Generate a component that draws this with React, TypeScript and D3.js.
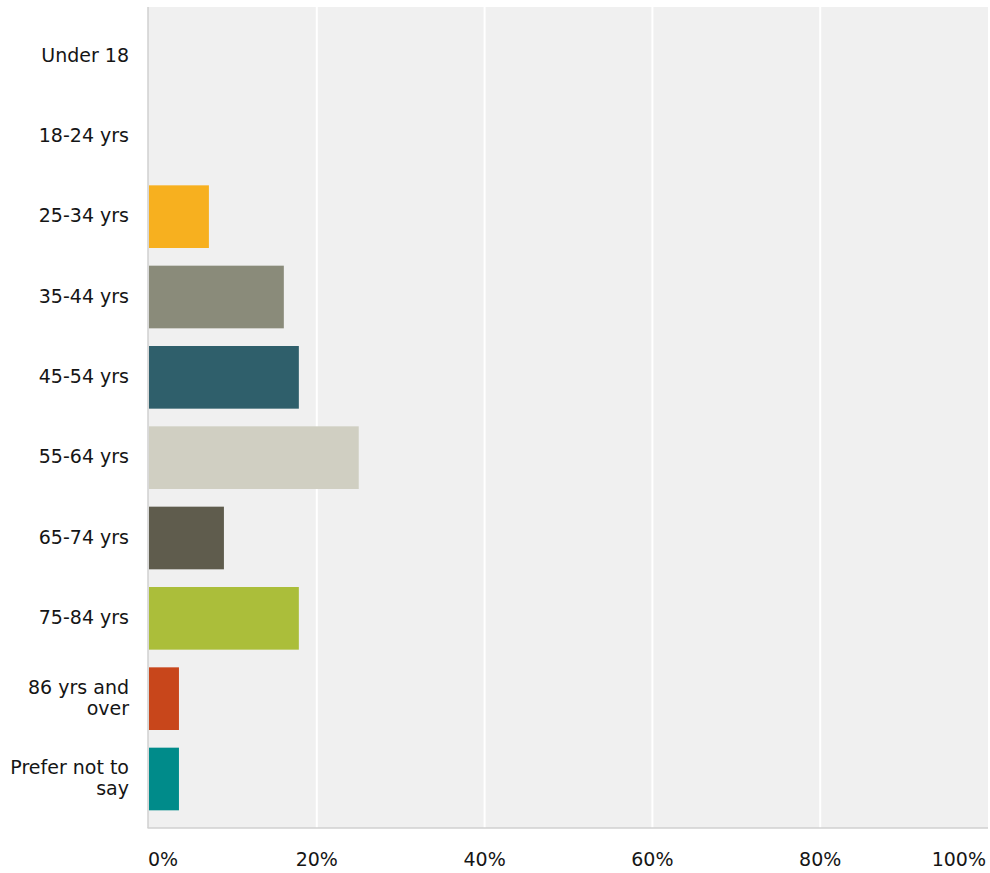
import React from "react";
import * as d3 from "d3";

const categories = [
  ["Under 18"],
  ["18-24 yrs"],
  ["25-34 yrs"],
  ["35-44 yrs"],
  ["45-54 yrs"],
  ["55-64 yrs"],
  ["65-74 yrs"],
  ["75-84 yrs"],
  ["86 yrs and", "over"],
  ["Prefer not to", "say"],
];
const values = [0, 0, 7.14, 16.07, 17.86, 25.0, 8.93, 17.86, 3.57, 3.57];
const colors = [
  "#f7b01f",
  "#f7b01f",
  "#f7b01f",
  "#8a8b7a",
  "#2f5f6b",
  "#d0cfc2",
  "#5f5c4d",
  "#abbe3a",
  "#c8461b",
  "#008b8a",
];
const ticks = [0, 20, 40, 60, 80, 100];

const W = 990;
const H = 873;
const left = 149;
const right = 988;
const top = 7;
const bottom = 828;

export default function App() {
  const x = d3.scaleLinear().domain([0, 100]).range([left, right]);
  const keys = categories.map((c) => c.join(" "));
  const y = d3
    .scaleBand<string>()
    .domain(keys)
    .range([top, bottom])
    .paddingInner(0.22)
    .paddingOuter(0.22);
  const font = "'DejaVu Sans', sans-serif";
  return (
    <svg
      width={W}
      height={H}
      style={{ position: "absolute", left: 0, top: 0, display: "block" }}
      fontFamily={font}
    >
      <rect x={left - 1} y={top} width={right - left + 1} height={bottom - top} fill="#f0f0f0" />
      {ticks.slice(1, -1).map((t) => (
        <line key={t} x1={x(t)} x2={x(t)} y1={top} y2={bottom} stroke="#ffffff" strokeWidth={2} />
      ))}
      {keys.map((k, i) =>
        values[i] > 0 ? (
          <rect
            key={k}
            x={x(0)}
            y={y(k)}
            width={x(values[i]) - x(0)}
            height={y.bandwidth()}
            fill={colors[i]}
          />
        ) : null
      )}
      <line x1={left - 1} x2={left - 1} y1={top} y2={bottom} stroke="#d0d0d0" strokeWidth={1.5} />
      <line x1={left - 1.5} x2={right} y1={bottom} y2={bottom} stroke="#d0d0d0" strokeWidth={1.5} />
      {categories.map((lines, i) => {
        const cy = (y(keys[i]) as number) + y.bandwidth() / 2;
        const lh = 21;
        const start = cy - 1 - ((lines.length - 1) * lh) / 2;
        return (
          <text key={keys[i]} x={129} textAnchor="end" fontSize={19} fill="#151515">
            {lines.map((l, j) => (
              <tspan key={j} x={129} y={start + j * lh} dy="0.35em">
                {l}
              </tspan>
            ))}
          </text>
        );
      })}
      {ticks.map((t, i) => (
        <text
          key={t}
          x={i === 0 ? x(t) - 1 : i === ticks.length - 1 ? x(t) - 2 : x(t)}
          y={866}
          fontSize={19}
          fill="#151515"
          textAnchor={i === 0 ? "start" : i === ticks.length - 1 ? "end" : "middle"}
        >
          {t + "%"}
        </text>
      ))}
    </svg>
  );
}
